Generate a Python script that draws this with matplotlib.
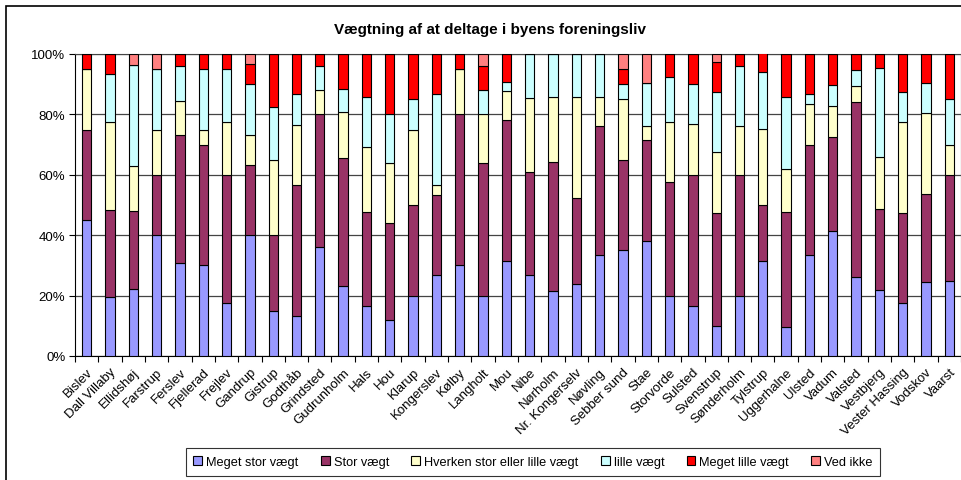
"""stacked 100% bar chart: vaegtning af foreningsliv"""

import matplotlib
matplotlib.use("Agg")
import matplotlib.pyplot as plt
import numpy as np
from matplotlib.patches import Rectangle

plt.rcParams['font.family'] = ['Liberation Sans', 'DejaVu Sans']

byer = ["Bislev", "Dall Villaby", "Ellidshøj", "Farstrup", "Ferslev", "Fjellerad",
        "Frejlev", "Gandrup", "Gistrup", "Godthåb", "Grindsted", "Gudrunholm",
        "Hals", "Hou", "Klarup", "Kongerslev", "Kølby", "Langholt", "Mou", "Nibe",
        "Nørholm", "Nr. Kongerselv", "Nøvling", "Sebber sund", "Stae", "Storvorde",
        "Sulsted", "Svenstrup", "Sønderholm", "Tylstrup", "Uggerhalne", "Ulsted",
        "Vadum", "Valsted", "Vestbjerg", "Vester Hassing", "Vodskov", "Vaarst"]

# percentages
meget_stor = [45, 19.4, 22.2, 40, 30.8, 30, 17.5, 40, 15, 13.3, 36, 23.1, 16.7, 12,
              20, 26.7, 30, 20, 31.3, 26.8, 21.4, 23.8, 33.3, 35, 38.1, 20, 16.7, 10,
              20, 31.3, 9.5, 33.3, 41.4, 26.3, 22, 17.5, 24.4, 25]
stor = [30, 29, 25.9, 20, 42.3, 40, 42.5, 23.3, 25, 43.3, 44, 42.3, 31, 32, 30, 26.7,
        50, 44, 46.9, 34.1, 42.9, 28.6, 42.9, 30, 33.3, 37.5, 43.3, 37.5, 40, 18.8,
        38.1, 36.7, 31, 57.9, 26.8, 30, 29.3, 35]
hverken = [20, 29, 14.8, 15, 11.5, 5, 17.5, 10, 25, 20, 8, 15.4, 21.4, 20, 25, 3.3,
           15, 16, 9.4, 24.4, 21.4, 33.3, 9.5, 20, 4.8, 20, 16.7, 20, 16, 25, 14.3,
           13.3, 10.3, 5.3, 17.1, 30, 26.8, 10]
lille = [0, 16.1, 33.3, 20, 11.5, 20, 17.5, 16.7, 17.5, 10, 8, 7.7, 16.7, 16, 10, 30,
         0, 8, 3.1, 14.6, 14.3, 14.3, 14.3, 5, 14.3, 15, 13.3, 20, 20, 18.8, 23.8,
         3.3, 6.9, 5.3, 29.3, 10, 9.8, 15]
meget_lille = [5, 6.5, 0, 0, 3.8, 5, 5, 6.7, 17.5, 13.3, 4, 11.5, 14.3, 20, 15, 13.3,
               5, 8, 9.4, 0, 0, 0, 0, 5, 0, 7.5, 10, 10, 4, 6.3, 14.3, 13.3, 10.3,
               5.3, 4.9, 12.5, 9.8, 15]
ved_ikke = [0, 0, 3.7, 5, 0, 0, 0, 3.3, 0, 0, 0, 0, 0, 0, 0, 0, 0, 4, 0, 0, 0, 0, 0,
            5, 9.5, 0, 0, 2.5, 0, 0, 0, 0, 0, 0, 0, 0, 0, 0]

serier = ["Meget stor vægt", "Stor vægt", "Hverken stor eller lille vægt",
          "lille vægt", "Meget lille vægt", "Ved ikke"]
farver = ["#9999FF", "#993366", "#FFFFCC", "#CCFFFF", "#FF0000", "#FF8080"]

fig = plt.figure(figsize=(9.61, 4.81), dpi=100)
# outer chart frame (cut off on right/bottom like the original)
fig.patches.append(Rectangle((6/961, -0.1), 1.2, 1 - 7/481 + 0.1,
                             transform=fig.transFigure, fill=False,
                             edgecolor="black", linewidth=1.2))

ax = fig.add_axes([75/961, 124/481, 886/961, 302/481])

x = np.arange(len(byer))
bund = np.zeros(len(byer))
data = [meget_stor, stor, hverken, lille, meget_lille, ved_ikke]
for navn, vals, farve in zip(serier, data, farver):
    vals = np.array(vals, dtype=float)
    ax.bar(x, vals, 0.4, bottom=bund, color=farve, edgecolor="black",
           linewidth=0.8, label=navn, zorder=3)
    bund += vals

ax.set_xlim(-0.5, len(byer) - 0.5)
ax.set_ylim(0, 100)
ax.set_yticks([0, 20, 40, 60, 80, 100])
ax.set_yticklabels(["0%", "20%", "40%", "60%", "80%", "100%"], fontsize=9.5)
ax.yaxis.grid(True, color="#444444", linewidth=0.9, zorder=0)

ax.set_xticks(x)
ax.set_xticklabels(byer, rotation=45, ha="right", rotation_mode="anchor", fontsize=9.5)
ax.tick_params(axis="x", length=0, pad=7)
ax.set_xticks(np.arange(-0.5, len(byer)), minor=True)
ax.tick_params(axis="x", which="minor", length=4, direction="out", width=0.8)
ax.tick_params(axis="y", length=4, direction="out", width=0.8, pad=3)

for side in ["top", "right"]:
    ax.spines[side].set_color("#444444")
for side in ["left", "bottom"]:
    ax.spines[side].set_color("black")

fig.text(0.51, 0.937, "Vægtning af at deltage i byens foreningsliv",
         ha="center", va="center", fontsize=11, fontweight="bold")

leg = fig.legend(loc="center", bbox_to_anchor=(533/961, 18/481), ncol=6,
                 fontsize=9.2, frameon=True, fancybox=False, edgecolor="black",
                 handlelength=0.7, handleheight=0.7, handletextpad=0.3,
                 columnspacing=1.75, borderpad=0.6)
leg.get_frame().set_linewidth(0.8)

fig.savefig("out.png", dpi=100)
